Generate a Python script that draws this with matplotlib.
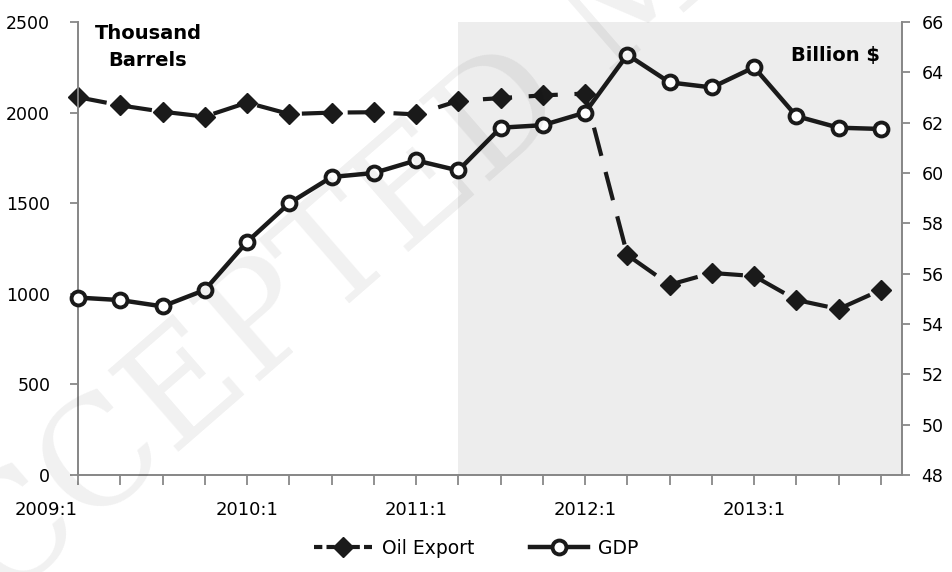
import matplotlib.pyplot as plt
from matplotlib.lines import Line2D

quarters = ['2009:1', '2009:2', '2009:3', '2009:4',
            '2010:1', '2010:2', '2010:3', '2010:4',
            '2011:1', '2011:2', '2011:3', '2011:4',
            '2012:1', '2012:2', '2012:3', '2012:4',
            '2013:1', '2013:2', '2013:3', '2013:4']
oil_export = [2085, 2040, 2005, 1978, 2055, 1992, 2000, 2002, 1990, 2065,
              2080, 2095, 2105, 1214, 1050, 1115, 1098, 966, 916, 1021]
gdp = [55.05, 54.95, 54.7, 55.35, 57.26, 58.8, 59.84, 60.0, 60.5, 60.1,
       61.8, 61.9, 62.4, 64.7, 63.6, 63.4, 64.2, 62.26, 61.8, 61.75]
shade_start = 9

x = list(range(len(quarters)))
dark = '#1a1a1a'
gray = '#888888'

plt.rcParams['font.family'] = 'DejaVu Sans'
fig = plt.figure(figsize=(9.52, 5.72), dpi=100)
ax = fig.add_axes([78/952, 1 - 475/572, 824/952, 453/572])
ax2 = ax.twinx()

ax.axvspan(shade_start, len(quarters) - 0.5, color='#ededed', zorder=0, lw=0)

ax.plot(x, oil_export, color=dark, lw=3, linestyle=(0, (7, 4)),
        marker='D', markersize=10, markerfacecolor=dark, markeredgecolor=dark,
        zorder=3, clip_on=False)
ax2.plot(x, gdp, color=dark, lw=3.2, marker='o', markersize=10,
         markerfacecolor='white', markeredgecolor=dark, markeredgewidth=2.8,
         zorder=3, clip_on=False)

ax.set_xlim(0, len(quarters) - 0.5)
ax.set_ylim(0, 2500)
ax.set_yticks(range(0, 2501, 500))
ax2.set_ylim(48, 66)
ax2.set_yticks(range(48, 67, 2))

ax.set_xticks(x)
ax.set_xticklabels([q if q.endswith(':1') else '' for q in quarters])
ax.get_xticklabels()[0].set_horizontalalignment('right')

for a in (ax, ax2):
    a.spines['top'].set_visible(False)
    for s in ('left', 'right', 'bottom'):
        a.spines[s].set_color(gray)
        a.spines[s].set_linewidth(1.3)
    a.tick_params(colors=gray, labelcolor='black', labelsize=12.5,
                  direction='out', length=6, width=1.3)
ax.tick_params(axis='x', labelsize=13, length=7, pad=12)
ax.tick_params(axis='y', pad=14)
ax2.tick_params(axis='y', pad=8)

ax.text(0.085, 0.945, 'Thousand\nBarrels', transform=ax.transAxes,
        ha='center', va='center', fontsize=14, fontweight='bold',
        linespacing=1.55)
ax2.text(0.973, 0.927, 'Billion $', transform=ax.transAxes,
         ha='right', va='center', fontsize=14, fontweight='bold')

handles = [Line2D([], [], color=dark, lw=3, linestyle=(0, (2, 1)), marker='D',
                  markersize=10, markerfacecolor=dark),
           Line2D([], [], color=dark, lw=3.2, marker='o', markersize=10,
                  markerfacecolor='white', markeredgewidth=2.8)]
fig.legend(handles, ['Oil Export', 'GDP'], loc='center',
           bbox_to_anchor=(0.5, 1 - 548/572), ncol=2, frameon=False,
           fontsize=13.5, handlelength=3.1, columnspacing=3.0,
           handletextpad=0.5)

fig.text(-0.08, -0.18, 'ACCEPTED MANUSCRIPT', fontsize=106,
         family='DejaVu Serif', color='#000000', alpha=0.06,
         rotation=41, rotation_mode='anchor', ha='left', va='baseline',
         zorder=10)

fig.savefig('out.png', dpi=100)
